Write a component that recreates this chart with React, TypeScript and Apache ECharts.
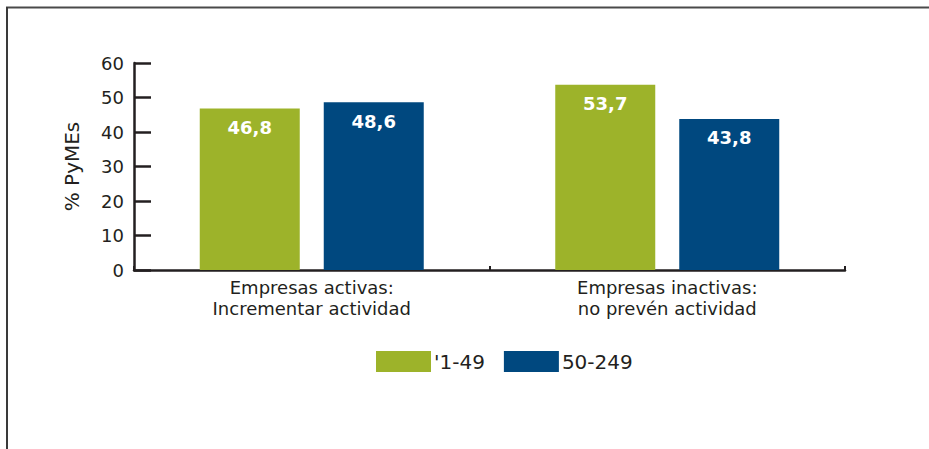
import React, { useEffect, useRef } from "react";
import * as echarts from "echarts";

const categories = ["Empresas activas:\nIncrementar actividad", "Empresas inactivas:\nno prevén actividad"];
const seriesNames = ["'1-49", "50-249"];
const small = [46.8, 53.7];
const medium = [48.6, 43.8];
const yTicks = [0, 10, 20, 30, 40, 50, 60];

const GREEN = "#9db32a";
const BLUE = "#00487f";
const TEXT = "#231f20";
const FONT = "'DejaVu Sans', sans-serif";

export default function App() {
  const ref = useRef<HTMLDivElement>(null);
  useEffect(() => {
    if (!ref.current) return;
    const chart = echarts.init(ref.current, null, { renderer: "svg" });
    const fmt = (p: any) => String(p.value).replace(".", ",");
    const valueLabel = {
      show: true,
      position: "insideTop",
      distance: 10,
      color: "#ffffff",
      fontWeight: "bold",
      fontSize: 18,
      fontFamily: FONT,
      formatter: fmt,
    };
    chart.setOption({
      animation: false,
      backgroundColor: "#ffffff",
      textStyle: { fontFamily: FONT },
      grid: { left: 134, right: 84, top: 63, bottom: 179 },
      legend: {
        data: seriesNames,
        left: 376,
        top: 351,
        padding: 0,
        itemWidth: 55,
        itemHeight: 21,
        itemGap: 19,
        icon: "rect",
        textStyle: { fontFamily: FONT, fontSize: 20, color: TEXT, padding: [0, 0, 0, -2] },
      },
      xAxis: {
        type: "category",
        data: categories,
        axisLine: { lineStyle: { color: TEXT, width: 2.5 } },
        axisTick: { show: true, inside: true, length: 4, lineStyle: { color: TEXT, width: 2 } },
        axisLabel: { color: TEXT, fontSize: 18, lineHeight: 21, margin: 7, fontFamily: FONT },
      },
      yAxis: {
        type: "value",
        min: yTicks[0],
        max: yTicks[yTicks.length - 1],
        interval: 10,
        name: "% PyMEs",
        nameLocation: "middle",
        nameGap: 52,
        nameRotate: 90,
        nameTextStyle: { color: TEXT, fontSize: 20, fontFamily: FONT },
        splitLine: { show: false },
        axisLine: { show: true, lineStyle: { color: TEXT, width: 2.5 } },
        axisTick: { show: true, inside: true, length: 17, lineStyle: { color: TEXT, width: 2.5 } },
        axisLabel: { color: TEXT, fontSize: 18, margin: 10, fontFamily: FONT },
      },
      series: [
        {
          name: seriesNames[0],
          type: "bar",
          data: small,
          barWidth: 100,
          barGap: "24%",
          itemStyle: { color: GREEN },
          label: valueLabel,
        },
        {
          name: seriesNames[1],
          type: "bar",
          data: medium,
          barWidth: 100,
          barGap: "24%",
          itemStyle: { color: BLUE },
          label: valueLabel,
        },
      ],
      graphic: [
        { type: "line", shape: { x1: 6, y1: 7.5, x2: 929, y2: 7.5 }, style: { stroke: "#4a4a4a", lineWidth: 2 } },
        { type: "line", shape: { x1: 7, y1: 7, x2: 7, y2: 449 }, style: { stroke: "#3a3a3a", lineWidth: 2 } },
      ],
    });
    return () => chart.dispose();
  }, []);
  return (
    <div
      ref={ref}
      style={{ position: "fixed", left: 0, top: 0, width: 929, height: 449, background: "#fff" }}
    />
  );
}
